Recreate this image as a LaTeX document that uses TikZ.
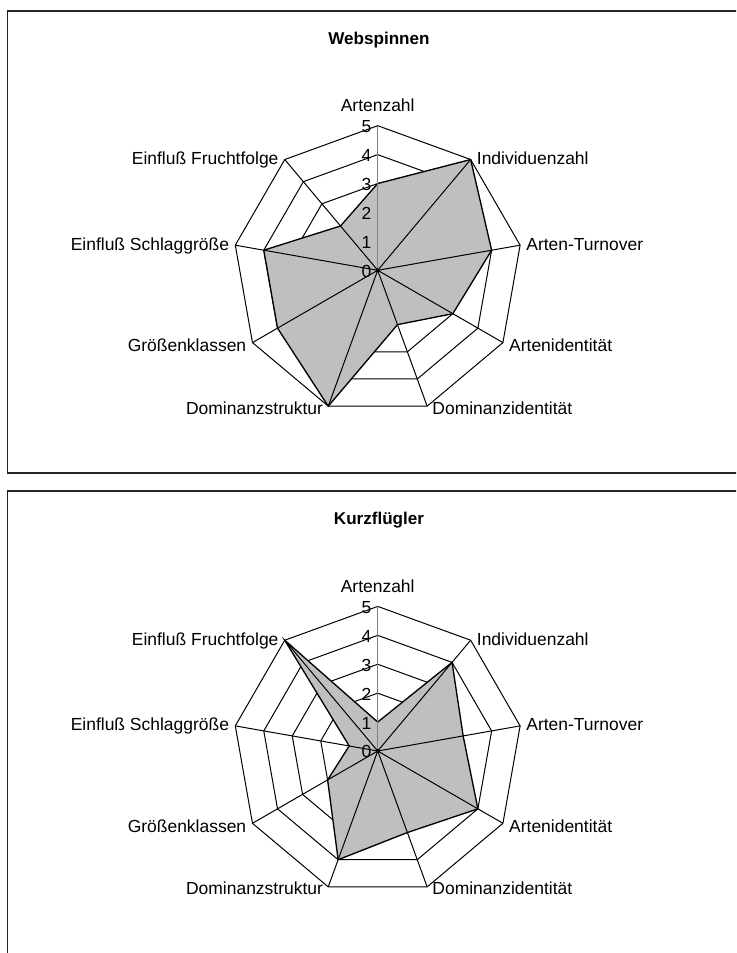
\documentclass[tikz,border=0pt]{standalone}
\usepackage{fontspec}
\setmainfont{Liberation Sans}
\usetikzlibrary{calc}
\tikzset{frame/.style={draw=black!85,line width=1.1pt},
	ring/.style={draw=black,line width=0.75pt},
	spoke/.style={draw=black,line width=0.75pt},
	valaxis/.style={draw=black!50,line width=1.1pt},
	area/.style={fill=black!25,draw=black,line width=1pt},
	lbl/.style={font=\fontsize{13.1}{15}\selectfont,inner sep=0pt},
	charttitle/.style={font=\fontsize{12.8}{15}\selectfont\bfseries,anchor=base}}

\begin{document}
\begin{tikzpicture}[x=0.75pt,y=0.75pt]
		\useasboundingbox (0,0) rectangle (736,953);
		\clip (0,0) rectangle (736,953);
		\draw[frame] (7.5,480) rectangle (760,942);
		\draw[frame] (7.5,-20) rectangle (760,462);
		\node[charttitle] (tWeb) at (379,908.7) {Webspinnen};
		\node[charttitle] (tKurz) at (379,428.7) {Kurzflügler};
		\foreach \ch/\cy/\vals in {w/682.7/{3,5,4,3,2,5,4,4,2},k/202/{1,4,3,4,3,4,2,1,5}}{
			\coordinate (\ch-o) at (377.7,\cy);
			\foreach \i in {0,...,8}
				\coordinate (\ch-a\i) at ($(\ch-o)+(90-40*\i:144.6)$);
			\foreach \r in {1,...,5}
				\draw[ring] ($(\ch-o)+(90:\r*28.92)$) \foreach \i in {1,...,8}{ -- ($(\ch-o)+(90-40*\i:\r*28.92)$)} -- cycle;
			\foreach \v [count=\i from 0] in \vals
				\coordinate (\ch-p\i) at ($(\ch-o)+(90-40*\i:\v*28.92)$);
			\draw[area] (\ch-p0) -- (\ch-p1) -- (\ch-p2) -- (\ch-p3) -- (\ch-p4) -- (\ch-p5) -- (\ch-p6) -- (\ch-p7) -- (\ch-p8) -- cycle;
			\foreach \i in {1,...,8}
				\draw[spoke] (\ch-o) -- (\ch-a\i);
			\draw[valaxis] (\ch-o) -- (\ch-a0);
			\fill (\ch-o) circle (2);
			\foreach \r in {0,...,5}
				\node[lbl,anchor=base east] (\ch-n\r) at ($(\ch-o)+(-6,\r*28.92-7)$) {\r};
			\foreach \i/\txt/\anc/\dx/\dy in {0/Artenzahl/base/0/14,
				1/Individuenzahl/base west/6/-5,
				2/Arten-Turnover/base west/6/-5,
				3/Artenidentität/base west/6/-9,
				4/Dominanzidentität/base west/5/-8,
				5/Dominanzstruktur/base east/-5/-8,
				6/Größenklassen/base east/-6/-9,
				7/Einfluß Schlaggröße/base east/-6/-5,
				8/Einfluß Fruchtfolge/base east/-6/-5}
				\node[lbl,anchor=\anc] (\ch-l\i) at ($(\ch-a\i)+(\dx,\dy)$) {\txt};
		}
	\end{tikzpicture}
\end{document}
